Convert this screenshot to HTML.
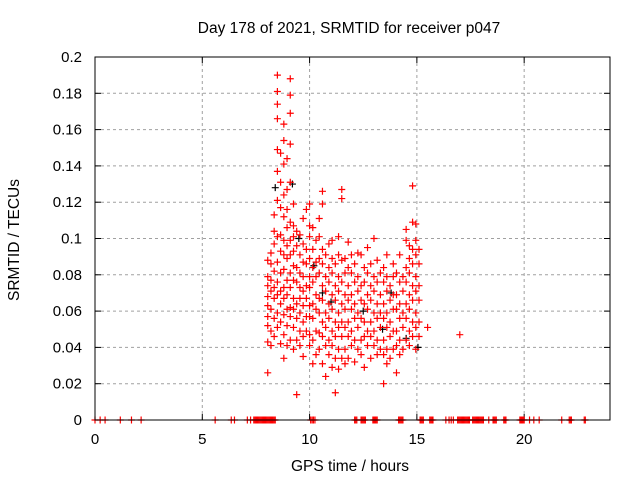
<!DOCTYPE html>
<html><head><meta charset="utf-8"><style>
html,body{margin:0;padding:0;background:#fff}
svg{display:block;font-family:"Liberation Sans",sans-serif}
</style></head><body>
<svg id="chart" width="640" height="480">
<text x="349" y="33" font-size="15.5" text-anchor="middle">Day 178 of 2021, SRMTID for receiver p047</text>
<text x="350" y="471" font-size="15.5" text-anchor="middle">GPS time / hours</text>
<text x="19" y="240" font-size="15.5" text-anchor="middle" transform="rotate(-90 19 240)">SRMTID / TECUs</text>
<g id="grid"></g>
<g id="ticks"></g>
<g id="marks"></g>
<rect x="95" y="57" width="515" height="363" fill="none" stroke="#000" stroke-width="1"/>
</svg>
<script>
const xTicks=[0,5,10,15,20];
const yTicks=[0,0.02,0.04,0.06,0.08,0.1,0.12,0.14,0.16,0.18,0.2];
const yTickLabels=["0","0.02","0.04","0.06","0.08","0.1","0.12","0.14","0.16","0.18","0.2"];
const redHours=[8.05,8.2,8.35,8.5,8.65,8.8,8.95,9.1,9.25,9.4,9.55,9.7,9.85,10.0,10.15,10.3,10.45,10.6,10.75,10.9,11.05,11.2,11.35,11.5,11.65,11.8,11.95,12.1,12.25,12.4,12.55,12.7,12.85,13.0,13.15,13.3,13.45,13.6,13.75,13.9,14.05,14.2,14.35,14.5,14.65,14.8,14.95,15.1,15.5,17.0];
const redValues=[
[.026,.043,.052,.057,.063,.068,.074,.079,.088],
[.041,.049,.061,.071,.077,.086,.092],
[.046,.056,.067,.073,.082,.097,.104,.113],
[.051,.059,.069,.076,.087,.101,.121,.137,.149,.166,.174,.19,.181],
[.042,.054,.064,.071,.081,.093,.102,.117,.131,.147],
[.034,.047,.058,.067,.073,.083,.091,.099,.112,.124,.141,.154,.163],
[.041,.052,.061,.069,.077,.089,.096,.106,.116,.127,.144],
[.044,.057,.062,.073,.081,.091,.099,.109,.131,.152,.169,.179,.188],
[.039,.051,.061,.067,.077,.085,.093,.101,.107,.119],
[.014,.044,.056,.064,.076,.084,.096,.104],
[.041,.049,.059,.067,.073,.081,.091,.102],
[.035,.046,.054,.063,.071,.079,.087,.097,.111],
[.049,.057,.067,.074,.086,.094,.116],
[.041,.047,.057,.063,.073,.079,.089,.101,.107,.119],
[.031,.044,.056,.064,.076,.084,.094,.106],
[.036,.049,.061,.069,.079,.087,.099],
[.039,.048,.059,.067,.081,.089,.101,.111],
[.031,.046,.054,.066,.074,.086,.094,.119,.126],
[.024,.041,.051,.059,.071,.079,.091],
[.036,.044,.056,.064,.076,.084,.097],
[.029,.041,.049,.061,.069,.081,.089,.099],
[.015,.034,.046,.054,.066,.074,.086],
[.028,.039,.051,.059,.071,.079,.091,.101],
[.034,.046,.054,.064,.076,.088,.127,.122],
[.031,.039,.051,.061,.069,.081,.089],
[.034,.046,.054,.066,.074,.084,.098],
[.041,.049,.061,.069,.081,.091],
[.032,.044,.056,.064,.076,.086],
[.039,.051,.059,.071,.079,.092],
[.036,.044,.056,.066,.074,.091],
[.029,.046,.054,.064,.076,.084],
[.041,.049,.061,.069,.081,.095],
[.034,.046,.054,.066,.074,.086],
[.041,.049,.059,.071,.079,.1],
[.036,.044,.056,.064,.076,.088],
[.039,.051,.059,.069,.081],
[.02,.036,.044,.056,.064,.076,.084],
[.031,.039,.051,.059,.071,.079,.091],
[.034,.046,.054,.066,.074],
[.039,.049,.061,.069,.079,.086],
[.026,.041,.049,.061,.069,.081],
[.036,.044,.056,.064,.076,.091],
[.039,.051,.059,.071,.079],
[.044,.056,.064,.076,.084,.099,.105],
[.041,.049,.061,.069,.081,.089,.096],
[.046,.054,.066,.074,.086,.094,.109,.129],
[.039,.051,.059,.071,.079,.091,.099,.108],
[.046,.054,.066,.074,.086,.094],
[.051],
[.047]
];
const blackHours=[8.4,9.2,9.5,10.2,11.0,12.5,13.4,14.5,15.05,10.6,13.8];
const blackValues=[.128,.13,.1,.085,.065,.06,.05,.045,.04,.07,.07];
const zeroHours=[0,0.24,0.47,1.18,1.7,2.15,5.6,6.35,6.5,7.1,7.25,7.4,7.45,7.5,7.55,7.6,7.65,7.7,7.75,7.8,7.85,7.9,7.95,8.0,8.05,8.1,8.15,8.2,8.25,8.3,8.35,8.4,10.05,10.12,10.18,10.25,12.1,12.15,12.2,12.4,12.45,12.5,12.55,12.6,12.95,13.0,13.05,13.1,13.15,14.15,14.2,14.25,14.3,14.35,15.15,15.2,15.25,15.3,15.6,15.65,15.7,15.75,16.35,16.5,16.6,16.7,16.9,16.95,17.0,17.05,17.1,17.15,17.2,17.25,17.3,17.35,17.4,17.45,17.6,17.65,17.7,17.75,17.8,17.85,17.9,17.95,18.0,18.05,18.1,18.35,18.55,18.6,18.65,18.7,19.05,19.1,19.15,19.8,19.85,19.9,19.95,20.0,20.25,20.45,20.7,21.75,22.1,22.15,22.2,22.8,22.85];

const X0=95,X1=610,Y0=420,Y1=57;
const xs=h=>X0+h*(X1-X0)/24;
const ys=v=>Y0-v*(Y0-Y1)/0.2;
const NS="http://www.w3.org/2000/svg";
function mk(tag,attrs,parent){const e=document.createElementNS(NS,tag);for(const k in attrs)e.setAttribute(k,attrs[k]);parent.appendChild(e);return e;}
const grid=document.getElementById('grid'),ticks=document.getElementById('ticks'),marks=document.getElementById('marks');
xTicks.forEach(t=>{
  const x=xs(t);
  if(t>0){const g=mk('line',{x1:x,x2:x,y1:Y0,y2:Y1,stroke:'#a0a0a0','stroke-dasharray':'3,3'},grid);
  
  }
  mk('line',{x1:x,x2:x,y1:Y0,y2:Y0-6,stroke:'#000'},ticks);
  mk('line',{x1:x,x2:x,y1:Y1,y2:Y1+6,stroke:'#000'},ticks);
  const l=mk('text',{x:x,y:444,'font-size':15,'text-anchor':'middle'},ticks);l.textContent=t;
  
  
});
yTicks.forEach((t,i)=>{
  const y=ys(t);
  if(i>0&&i<yTicks.length-1){const g=mk('line',{x1:X0,x2:X1,y1:y,y2:y,stroke:'#a0a0a0','stroke-dasharray':'3,3'},grid);
  
  }
  mk('line',{x1:X0,x2:X0+6,y1:y,y2:y,stroke:'#000'},ticks);
  mk('line',{x1:X1,x2:X1-6,y1:y,y2:y,stroke:'#000'},ticks);
  const l=mk('text',{x:82,y:y+5,'font-size':15,'text-anchor':'end'},ticks);l.textContent=yTickLabels[i];
  
  
});
function plus(h,v,color){
  const x=xs(h),y=ys(v);
  const p=mk('path',{d:`M${x-3.5},${y}H${x+3.5}M${x},${y-3.5}V${y+3.5}`,stroke:color,'stroke-width':1.2,fill:'none'},marks);
  
  
}
zeroHours.forEach(h=>plus(h,0,'#f00'));
blackHours.forEach((h,i)=>plus(h,blackValues[i],'#000'));
redHours.forEach((h,i)=>redValues[i].forEach(v=>plus(h,v,'#f00')));
</script>
</body></html>
